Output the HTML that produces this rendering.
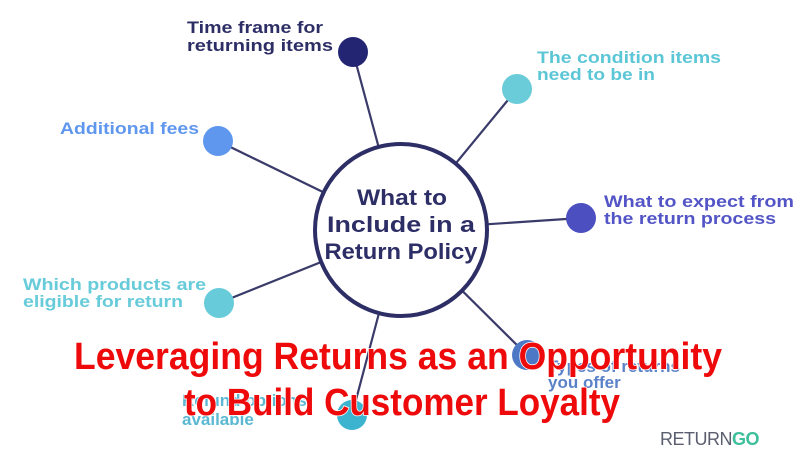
<!DOCTYPE html>
<html><head><style>
body{margin:0;width:800px;height:457px;overflow:hidden;background:#fff;}
svg{display:block}
.l{font-family:"Liberation Sans",sans-serif;font-weight:bold;font-size:17px;}
.t{font-family:"Liberation Sans",sans-serif;font-weight:bold;font-size:38px;fill:#ee0a0a;stroke:#fff;stroke-width:1.5px;paint-order:stroke}
</style></head><body>
<svg width="800" height="457" viewBox="0 0 800 457">
<g stroke="#3a3b6a" stroke-width="2.2">
<line x1="353" y1="52" x2="401" y2="230"/>
<line x1="218" y1="141" x2="401" y2="230"/>
<line x1="219" y1="303" x2="401" y2="230"/>
<line x1="517" y1="89" x2="401" y2="230"/>
<line x1="581" y1="218" x2="401" y2="230"/>
<line x1="527" y1="355" x2="401" y2="230"/>
<line x1="352" y1="415" x2="401" y2="230"/>
</g>
<circle cx="401" cy="230" r="86" fill="#fff" stroke="#2d2e66" stroke-width="4"/>
<g font-family="Liberation Sans,sans-serif" font-weight="bold" font-size="22" fill="#2d2e66" text-anchor="middle" lengthAdjust="spacingAndGlyphs">
<text x="402" y="205" textLength="90" lengthAdjust="spacingAndGlyphs">What to</text>
<text x="401" y="232" textLength="148" lengthAdjust="spacingAndGlyphs">Include in a</text>
<text x="401" y="259" textLength="153" lengthAdjust="spacingAndGlyphs">Return Policy</text>
</g>
<circle cx="353" cy="52" r="15" fill="#232572"/>
<circle cx="218" cy="141" r="15" fill="#5f97ee"/>
<circle cx="219" cy="303" r="15" fill="#67cbd9"/>
<circle cx="517" cy="89" r="15" fill="#6acbd9"/>
<circle cx="581" cy="218" r="15" fill="#4c4fbf"/>
<circle cx="527" cy="355" r="15" fill="#4d78c6"/>
<circle cx="352" cy="415" r="15" fill="#3cb4cf"/>
<g class="l">
<text x="187" y="33" fill="#2d2e66" textLength="136" lengthAdjust="spacingAndGlyphs">Time frame for</text>
<text x="187" y="51" fill="#2d2e66" textLength="146" lengthAdjust="spacingAndGlyphs">returning items</text>
<text x="60" y="134" fill="#5f97ee" textLength="139" lengthAdjust="spacingAndGlyphs">Additional fees</text>
<text x="23" y="290" fill="#67cbd9" textLength="183" lengthAdjust="spacingAndGlyphs">Which products are</text>
<text x="23" y="307" fill="#67cbd9" textLength="160" lengthAdjust="spacingAndGlyphs">eligible for return</text>
<text x="537" y="63" fill="#5bc6d6" textLength="184" lengthAdjust="spacingAndGlyphs">The condition items</text>
<text x="537" y="80" fill="#5bc6d6" textLength="118" lengthAdjust="spacingAndGlyphs">need to be in</text>
<text x="604" y="207" fill="#5355c6" textLength="190" lengthAdjust="spacingAndGlyphs">What to expect from</text>
<text x="604" y="224" fill="#5355c6" textLength="172" lengthAdjust="spacingAndGlyphs">the return process</text>
<text x="548" y="372" fill="#5b82c9">Types of returns</text>
<text x="548" y="388" fill="#5b82c9">you offer</text>
<text x="182" y="406" fill="#5bb8d3">Refund options</text>
<text x="182" y="425" fill="#5bb8d3">available</text>
</g>
<text x="660" y="445" font-family="Liberation Sans,sans-serif" font-size="18" fill="#5b5e6e" letter-spacing="-0.5">RETURN<tspan fill="#3cbf9b" font-weight="bold">GO</tspan></text>
<text class="t" x="74" y="369" textLength="648" lengthAdjust="spacingAndGlyphs">Leveraging Returns as an Opportunity</text>
<text class="t" x="184" y="415" textLength="436" lengthAdjust="spacingAndGlyphs">to Build Customer Loyalty</text>
</svg>
</body></html>
